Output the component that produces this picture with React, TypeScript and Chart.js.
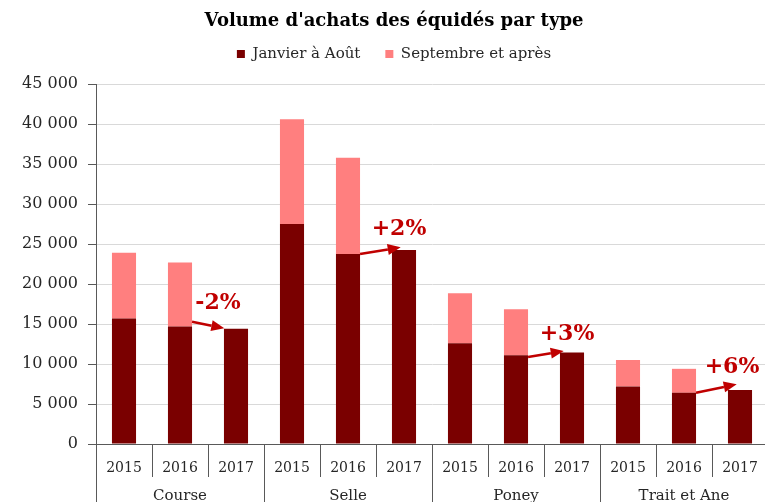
import React, { useEffect, useRef } from "react";
import { Chart, registerables } from "chart.js";

Chart.register(...registerables);

// ---- data ----
const groups = ["Course", "Selle", "Poney", "Trait et Ane"];
const years = ["2015", "2016", "2017"];
const janvierAout = [15700, 14700, 14400, 27500, 23750, 24250, 12600, 11100, 11450, 7200, 6400, 6750];
const septembreApres = [8200, 8000, 0, 13100, 12050, 0, 6250, 5750, 0, 3300, 3000, 0];
const variations = ["-2%", "+2%", "+3%", "+6%"];
const yMax = 45000;
const yStep = 5000;

const categoryLabels = groups.flatMap(() => years);

// ---- annotation placement (relative to bars) ----
const arrowStartDy = [-4.7, 0, 1.8, 0];
const arrowEnd = [
  [-11.7, -0.5],
  [-3.3, -2.7],
  [-8.3, -1.4],
  [-3.3, -5.7],
];
const labelOffset = [
  [-18, -26],
  [-5, -21],
  [-5, -18.5],
  [-8, -23],
];

const AXIS = "#595959";
const RED = "#C00000";
const SERIF = "'DejaVu Serif', serif";

const fmt = (v: number) => String(v).replace(/\B(?=(\d{3})+(?!\d))/g, " ");

const annotPlugin = {
  id: "annot",
  afterDatasetsDraw(chart: any) {
    const { ctx } = chart;
    const x = chart.scales.x;
    const y = chart.scales.y;
    const meta = chart.getDatasetMeta(0);
    variations.forEach((txt, g) => {
      const i16 = g * 3 + 1;
      const i17 = g * 3 + 2;
      const bar16 = meta.data[i16];
      const half = bar16.width / 2;
      const x16 = x.getPixelForValue(i16);
      const x17 = x.getPixelForValue(i17);
      const y16 = y.getPixelForValue(janvierAout[i16]);
      const y17 = y.getPixelForValue(janvierAout[i17]);
      const sx = x16 + half;
      const sy = y16 + arrowStartDy[g];
      const ex = x17 + arrowEnd[g][0];
      const ey = y17 + arrowEnd[g][1];
      const ang = Math.atan2(ey - sy, ex - sx);
      const headLen = 13;
      const headW = 5.5;
      const bx = ex - headLen * Math.cos(ang);
      const by = ey - headLen * Math.sin(ang);
      ctx.save();
      ctx.strokeStyle = RED;
      ctx.fillStyle = RED;
      ctx.lineWidth = 2.5;
      ctx.beginPath();
      ctx.moveTo(sx, sy);
      ctx.lineTo(bx, by);
      ctx.stroke();
      ctx.beginPath();
      ctx.moveTo(ex, ey);
      ctx.lineTo(bx + headW * Math.sin(ang), by - headW * Math.cos(ang));
      ctx.lineTo(bx - headW * Math.sin(ang), by + headW * Math.cos(ang));
      ctx.closePath();
      ctx.fill();
      ctx.font = `bold 22px ${SERIF}`;
      ctx.textAlign = "center";
      ctx.textBaseline = "middle";
      ctx.fillText(txt, x17 + labelOffset[g][0], y17 + labelOffset[g][1]);
      ctx.restore();
    });
  },
  afterDraw(chart: any) {
    const { ctx, chartArea } = chart;
    const x = chart.scales.x;
    const bottom = chart.height;
    ctx.save();
    ctx.strokeStyle = AXIS;
    ctx.lineWidth = 1;
    for (let g = 0; g <= groups.length; g++) {
      const px = Math.round(x.getPixelForValue(g * 3 - 0.5)) + 0.5;
      ctx.beginPath();
      ctx.moveTo(px, chartArea.bottom);
      ctx.lineTo(px, bottom);
      ctx.stroke();
    }
    ctx.fillStyle = "#262626";
    ctx.font = `15px ${SERIF}`;
    ctx.textAlign = "center";
    ctx.textBaseline = "middle";
    groups.forEach((name, g) => {
      const cx = x.getPixelForValue(g * 3 + 1);
      ctx.fillText(name, cx, chartArea.bottom + 52);
    });
    ctx.restore();
  },
};

export default function App() {
  const ref = useRef<HTMLCanvasElement | null>(null);
  useEffect(() => {
    if (!ref.current) return;
    const chart = new Chart(ref.current, {
      type: "bar",
      data: {
        labels: categoryLabels,
        datasets: [
          {
            label: "Janvier à Août",
            data: janvierAout,
            backgroundColor: "#7A0000",
            barPercentage: 0.43,
            categoryPercentage: 1,
          },
          {
            label: "Septembre et après",
            data: septembreApres,
            backgroundColor: "#FF7F7F",
            barPercentage: 0.43,
            categoryPercentage: 1,
          },
        ],
      },
      options: {
        responsive: false,
        animation: false,
        devicePixelRatio: 1,
        layout: { padding: { left: 20, right: 32, top: 0, bottom: 0 } },
        plugins: {
          title: {
            display: true,
            text: "Volume d'achats des équidés par type",
            color: "#000",
            font: { family: SERIF, size: 18, weight: "bold" },
            padding: { top: 11, bottom: -11 },
          },
          subtitle: {
            display: true,
            text: " ",
            position: "top",
            weight: 500,
            font: { size: 1 },
            padding: { top: 0, bottom: 11.3 },
          },
          legend: {
            display: true,
            labels: {
              boxWidth: 8,
              boxHeight: 8,
              padding: 25,
              color: "#262626",
              font: { family: SERIF, size: 15 },
            },
          },
          tooltip: { enabled: false },
        },
        scales: {
          x: {
            stacked: true,
            afterFit: (s: any) => {
              s.height = 76;
            },
            grid: {
              display: true,
              drawOnChartArea: false,
              drawTicks: true,
              tickLength: 33,
              tickColor: AXIS,
              offset: true,
            },
            border: { display: true, color: AXIS },
            ticks: {
              padding: -17,
              color: "#262626",
              font: { family: SERIF, size: 14 },
              autoSkip: false,
              maxRotation: 0,
            },
          },
          y: {
            stacked: true,
            min: 0,
            max: yMax,
            afterFit: (s: any) => {
              s.width = 76;
            },
            grid: {
              color: "#D9D9D9",
              tickColor: AXIS,
              tickLength: 8,
            },
            border: { display: true, color: AXIS },
            ticks: {
              stepSize: yStep,
              padding: 10,
              color: "#262626",
              font: { family: SERIF, size: 16 },
              callback: (v: any) => fmt(Number(v)),
            },
          },
        },
      },
      plugins: [annotPlugin],
    });
    return () => chart.destroy();
  }, []);

  return (
    <div style={{ position: "fixed", left: 0, top: 0, width: 765, height: 502, overflow: "hidden", background: "#fff" }}>
      <canvas ref={ref} width={800} height={520} style={{ display: "block" }} />
    </div>
  );
}
